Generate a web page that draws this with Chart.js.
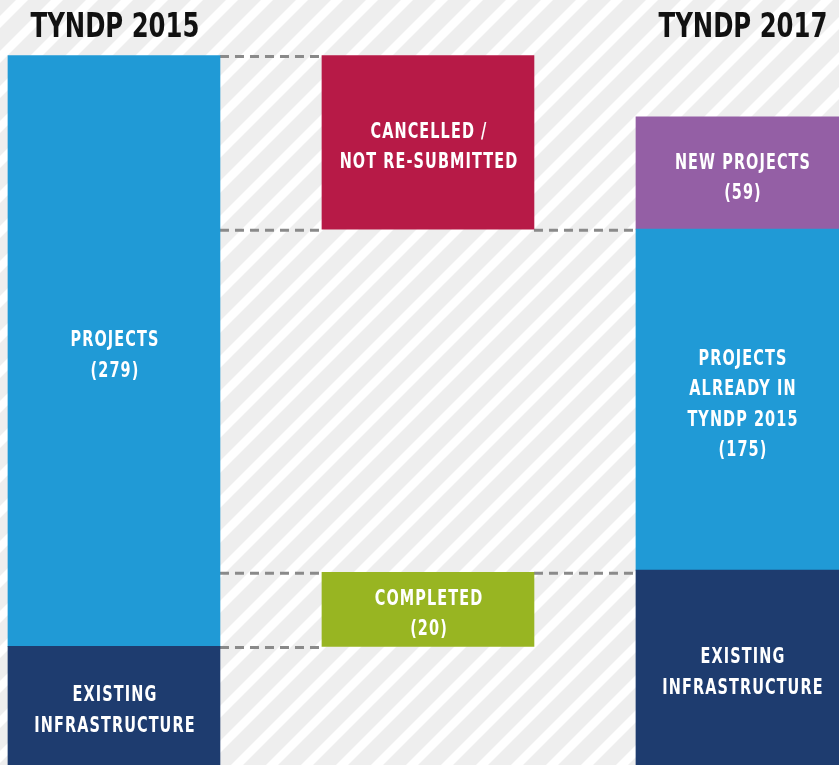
<!DOCTYPE html>
<html>
<head>
<meta charset="utf-8">
<title>TYNDP 2015 vs 2017</title>
<script src="https://cdn.jsdelivr.net/npm/chart.js@4"></script>
<style>
  html, body { margin: 0; padding: 0; background: #fff; }
  #wrap { width: 839px; height: 765px; position: relative; }
</style>
</head>
<body>
<div id="wrap"><canvas id="chart"></canvas></div>
<script>
// ================= DATA =================
// column headers (top axis), one per bar position
const columns = ["TYNDP 2015", "", "TYNDP 2017"];
const columnX = [0, 1, 2];

// segment ranges as drawn in the picture (units of the 2015 project count)
const existing2015 = [0, 56];
const projects2015 = [56, 335];
const cancelled    = [253, 335];
const completed    = [56, 91];
const existing2017 = [0, 92];
const projects2017 = [92, 253];
const new2017      = [253, 306];

// text inside each segment
const existing2015Text = ["EXISTING", "INFRASTRUCTURE"];
const projects2015Text = ["PROJECTS", "(279)"];
const cancelledText    = ["CANCELLED /", "NOT RE-SUBMITTED"];
const completedText    = ["COMPLETED", "(20)"];
const existing2017Text = ["EXISTING", "INFRASTRUCTURE"];
const projects2017Text = ["PROJECTS", "ALREADY IN", "TYNDP 2015", "(175)"];
const new2017Text      = ["NEW PROJECTS", "(59)"];

// dashed connectors: level + which gaps (0 = between col 0/1, 1 = between col 1/2)
const links = [
  { value: cancelled[1], gaps: [0] },
  { value: cancelled[0], gaps: [0, 1] },
  { value: completed[1], gaps: [0, 1] },
  { value: completed[0], gaps: [0] }
];

const FONT = "'DejaVu Sans Condensed', 'DejaVu Sans', sans-serif";

// ================= PLUGINS =================
const stripes = {
  id: "stripes",
  beforeDraw(chart) {
    const ctx = chart.ctx;
    const P = 35;
    const tile = document.createElement("canvas");
    tile.width = P; tile.height = P;
    const t = tile.getContext("2d");
    t.fillStyle = "#eeeeee";
    t.fillRect(0, 0, P, P);
    t.strokeStyle = "#ffffff";
    t.lineWidth = 8.5;
    t.beginPath();
    t.moveTo(-2, P + 2); t.lineTo(P + 2, -2);
    t.moveTo(-6, 6); t.lineTo(6, -6);
    t.moveTo(P - 6, P + 6); t.lineTo(P + 6, P - 6);
    t.stroke();
    const pat = ctx.createPattern(tile, "repeat");
    pat.setTransform(new DOMMatrix().translate(22, 0));
    ctx.save();
    ctx.fillStyle = pat;
    ctx.fillRect(0, 0, chart.width, chart.height);
    ctx.restore();
  }
};

function columnBar(chart, col) {
  // first dataset sitting in that column
  for (let i = 0; i < chart.data.datasets.length; i++) {
    if (chart.data.datasets[i].data[0].x === col) return chart.getDatasetMeta(i).data[0];
  }
}

const connectors = {
  id: "connectors",
  beforeDatasetsDraw(chart) {
    const ctx = chart.ctx;
    const y = chart.scales.y;
    ctx.save();
    ctx.strokeStyle = "#8a8a8a";
    ctx.lineWidth = 3;
    ctx.setLineDash([9, 6]);
    links.forEach(l => {
      const py = y.getPixelForValue(l.value) + 1;
      l.gaps.forEach(g => {
        const a = columnBar(chart, columnX[g]);
        const b = columnBar(chart, columnX[g + 1]);
        ctx.beginPath();
        ctx.moveTo(a.x + a.width / 2, py);
        ctx.lineTo(b.x - b.width / 2, py);
        ctx.stroke();
      });
    });
    ctx.restore();
  }
};

// narrow text: the original uses a condensed face, so squeeze horizontally
function squeezed(ctx, str, x, y, sx) {
  ctx.save();
  ctx.translate(x, y);
  ctx.scale(sx, 1);
  ctx.fillText(str, 0, 0);
  ctx.restore();
}

const segmentText = {
  id: "segmentText",
  afterDatasetsDraw(chart) {
    const ctx = chart.ctx;
    const area = chart.chartArea;
    const xs = chart.scales.x;
    ctx.save();
    ctx.textAlign = "center";
    ctx.textBaseline = "middle";

    // column headers
    ctx.fillStyle = "#111111";
    ctx.font = "bold 33px " + FONT;
    columns.forEach((c, i) => {
      if (c) squeezed(ctx, c, xs.getPixelForValue(columnX[i]) + 1, area.top - 22, 0.82);
    });

    // segment labels
    ctx.fillStyle = "#ffffff";
    ctx.font = "bold 22px " + FONT;
    ctx.letterSpacing = "1.5px";
    chart.data.datasets.forEach((ds, i) => {
      const el = chart.getDatasetMeta(i).data[0];
      const top = Math.max(el.y, area.top);
      const bottom = Math.min(el.base, area.bottom);
      const cy = (top + bottom) / 2 + 5;
      const lh = 30.5;
      ds.text.forEach((line, k) => {
        squeezed(ctx, line, el.x + 1, cy + (k - (ds.text.length - 1) / 2) * lh, 0.73);
      });
    });
    ctx.restore();
  }
};

// ================= CHART =================
function seg(col, range, color, text) {
  return {
    data: [{ x: col, y: range }],
    backgroundColor: color,
    text: text,
    grouped: false,
    barThickness: 212,
    borderWidth: 0,
    borderSkipped: false
  };
}

new Chart(document.getElementById("chart"), {
  type: "bar",
  data: {
    datasets: [
      seg(columnX[0], existing2015, "#1e3c6f", existing2015Text),
      seg(columnX[0], projects2015, "#209ad6", projects2015Text),
      seg(columnX[1], cancelled, "#b71a47", cancelledText),
      seg(columnX[1], completed, "#98b522", completedText),
      seg(columnX[2], existing2017, "#1e3c6f", existing2017Text),
      seg(columnX[2], projects2017, "#209ad6", projects2017Text),
      seg(columnX[2], new2017, "#945fa5", new2017Text)
    ]
  },
  options: {
    responsive: true,
    maintainAspectRatio: false,
    animation: false,
    layout: { padding: 0 },
    plugins: { legend: { display: false }, tooltip: { enabled: false } },
    scales: {
      x: {
        type: "linear",
        position: "top",
        offset: false,
        min: -0.363,
        max: 2.309,
        grid: { display: false },
        border: { display: false },
        afterBuildTicks: scale => { scale.ticks = columnX.map(v => ({ value: v })); },
        afterFit: scale => { scale.height = 50; },
        ticks: { display: false }
      },
      y: {
        display: false,
        min: 0,
        max: 337.6
      }
    }
  },
  plugins: [stripes, connectors, segmentText]
});
</script>
</body>
</html>
